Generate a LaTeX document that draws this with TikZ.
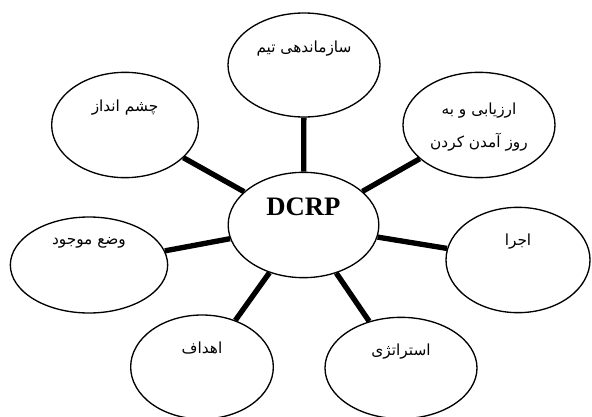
\documentclass[tikz,border=0pt]{standalone}
\usepackage{fontspec}
\setmainfont{Liberation Serif}
\newfontfamily\farsi[Script=Arabic]{DejaVu Sans}
\TeXXeTstate=1
\usetikzlibrary{shapes.geometric}

\begin{document}
\begin{tikzpicture}[x=0.75pt, y=-0.75pt,
    bubble/.style={draw, ellipse, line width=1pt, inner sep=0pt,
        minimum width=113pt, minimum height=79pt},
    spoke/.style={line width=4pt},
    fa/.style={font=\farsi\fontsize{11.5}{25}\selectfont, align=center}]
    \useasboundingbox (0, 0) rectangle (592, 417);

    \node[bubble] (dcrp) at (303.5, 225) {};
    \node[bubble, minimum width=114pt, minimum height=78pt] (team) at (304, 65) {};
    \node[bubble, minimum width=114pt, minimum height=79pt] (eval) at (479, 125) {};
    \node[bubble, minimum width=110pt, minimum height=79pt] (vision) at (125, 125) {};
    \node[bubble, minimum width=118pt, minimum height=72pt] (status) at (89, 265) {};
    \node[bubble, minimum width=107pt, minimum height=78pt] (goals) at (202, 367) {};
    \node[bubble, minimum width=114pt, minimum height=76pt] (strategy) at (401, 368) {};
    \node[bubble, minimum width=108pt, minimum height=79pt] (action) at (518, 260) {};

    \node[font=\bfseries\fontsize{20}{24}\selectfont] (dcrp-t) at ([yshift=14pt]dcrp.center) {DCRP};
    \node[fa] (team-t) at ([yshift=12pt]team.center) {\beginR سازماندهی تیم\endR};
    \node[fa] (eval-t) at ([yshift=-1.5pt]eval.center) {\beginR ارزیابی و به\endR\\ \beginR روز آمدن کردن\endR};
    \node[fa] (vision-t) at ([yshift=13pt]vision.center) {\beginR چشم انداز\endR};
    \node[fa] (status-t) at ([yshift=17pt]status.center) {\beginR وضع موجود\endR};
    \node[fa] (goals-t) at ([yshift=14pt]goals.center) {\beginR اهداف\endR};
    \node[fa] (strategy-t) at ([yshift=12pt]strategy.center) {\beginR استراتژی\endR};
    \node[fa] (action-t) at ([yshift=14pt]action.center) {\beginR اجرا\endR};

    \foreach \n in {team, eval, vision, status, goals, strategy, action}
        \draw[spoke] (dcrp) -- (\n);
\end{tikzpicture}
\end{document}
